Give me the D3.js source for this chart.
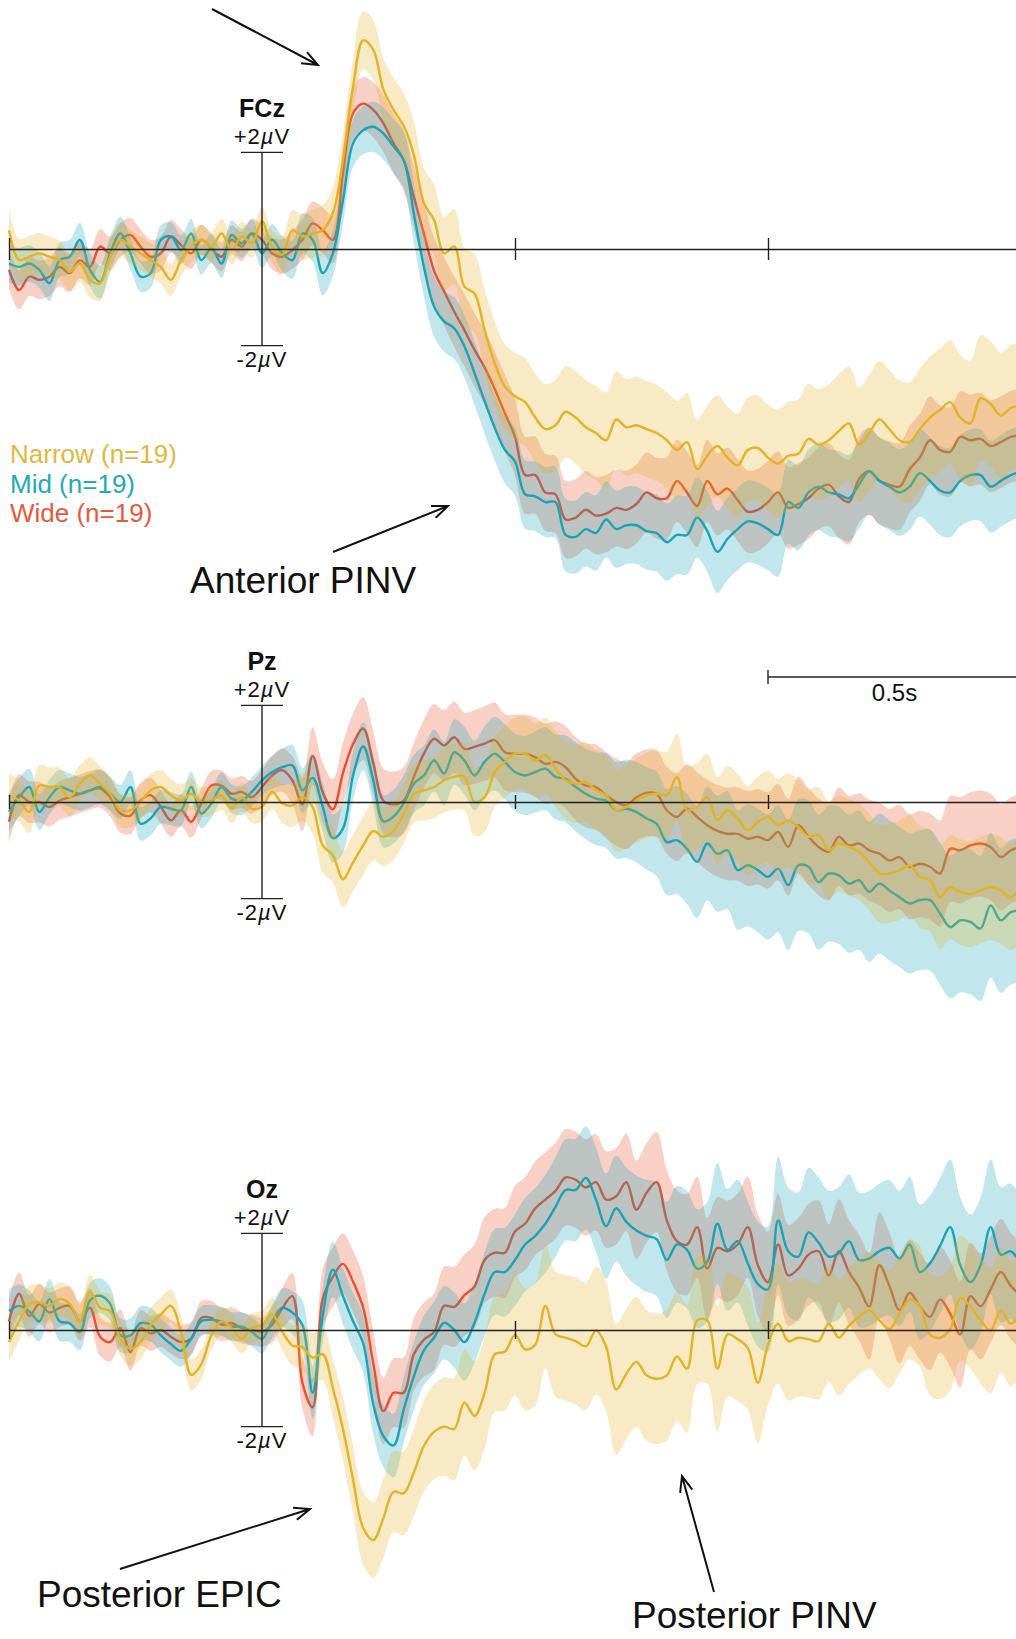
<!DOCTYPE html>
<html>
<head>
<meta charset="utf-8">
<script src="https://cdn.jsdelivr.net/npm/d3@7"></script>
<style>
  body { margin: 0; background: #fff; }
  svg { display: block; font-family: "Liberation Sans", Arial, Helvetica, sans-serif; }
</style>
</head>
<body>
<svg id="chart"></svg>
<script>
// grand-average ERPs, µV, sampled every 20 ms from -0.5 s to 1.5 s (101 samples)
const tStart = -0.5
const tStep = 0.02
// standard error of each average, read every 100 ms (21 values)
const seStep = 0.1

const timeTicks = [-0.5, 0.5, 1.0]
const conditions = ['Wide', 'Mid', 'Narrow']   // drawing order
const legendLabels = ['Narrow (n=19)', 'Mid (n=19)', 'Wide (n=19)']

// ---------- FCz ----------
const fczNarrow = [
  0.39, -0.23, -0.16, -0.09, -0.16, -0.23, -0.47, -0.30, -0.64, -0.71,
  -0.16, 0.19, 0.05, -0.09, -0.23, -0.37, -0.64, -0.23, 0.05, 0.19,
  0.05, 0.32, -0.02, 0.26, 0.12, 0.57, 0.05, -0.12, 0.39, 0.26,
  0.32, 0.39, 0.74, 1.84, 3.36, 4.32, 4.12, 3.30, 2.88, 2.55,
  1.95, 0.95, 0.60, -0.09, 0.05, -0.78, -0.92, -1.68, -2.37, -2.85,
  -3.05, -3.17, -3.49, -3.73, -3.65, -3.37, -3.49, -3.69, -3.81, -3.96,
  -3.53, -3.69, -3.65, -3.73, -3.81, -3.96, -4.16, -4.00, -4.56, -4.28,
  -4.08, -4.32, -4.48, -4.16, -4.12, -4.32, -4.44, -4.28, -4.24, -3.93,
  -4.05, -3.96, -3.77, -3.61, -4.05, -3.81, -3.53, -3.73, -3.96, -4.00,
  -3.73, -3.49, -3.33, -3.17, -3.49, -3.61, -3.09, -3.21, -3.45, -3.29,
  -3.25
]
const fczMid = [
  -0.30, -0.37, -0.30, -0.43, -0.71, -0.23, -0.16, 0.19, -0.43, -0.68,
  -0.09, 0.32, -0.09, -0.57, -0.50, 0.19, 0.26, -0.02, 0.32, -0.23,
  0.01, -0.30, 0.29, 0.12, 0.32, -0.09, 0.19, -0.09, -0.23, 0.32,
  0.19, -0.50, -0.09, 1.01, 2.19, 2.46, 2.53, 2.39, 2.12, 1.84,
  0.74, -0.37, -1.19, -1.50, -1.64, -2.02, -2.57, -3.15, -3.70, -4.16,
  -4.40, -5.08, -5.12, -5.24, -5.24, -5.92, -5.96, -5.80, -5.88, -5.60,
  -5.80, -5.72, -5.72, -5.84, -5.88, -6.07, -5.92, -5.92, -5.56, -5.84,
  -6.27, -6.00, -5.80, -5.64, -5.68, -5.80, -5.92, -5.24, -5.36, -5.04,
  -4.92, -5.04, -5.08, -5.16, -4.88, -4.60, -4.80, -4.92, -5.04, -4.92,
  -4.64, -4.80, -5.00, -5.04, -4.80, -4.68, -4.68, -4.92, -4.80, -4.68,
  -4.60
]
const fczWide = [
  -0.43, -0.85, -0.57, -0.64, -0.57, -0.37, -0.50, -0.23, -0.37, 0.05,
  -0.09, 0.19, 0.29, 0.05, -0.16, -0.09, 0.26, 0.08, -0.09, 0.19,
  0.01, -0.16, 0.19, 0.05, 0.32, 0.19, -0.09, -0.16, -0.02, 0.19,
  0.53, 0.39, 0.19, 1.57, 2.81, 3.01, 2.88, 2.60, 2.19, 1.84,
  1.08, 0.32, -0.45, -0.88, -1.30, -1.68, -2.09, -2.45, -2.90, -3.40,
  -3.89, -4.68, -4.68, -5.04, -5.08, -5.60, -5.56, -5.40, -5.52, -5.48,
  -5.36, -5.40, -5.28, -5.04, -5.16, -5.16, -4.80, -5.04, -5.32, -4.80,
  -5.08, -4.96, -5.20, -5.44, -5.40, -5.24, -5.04, -5.36, -5.28, -5.16,
  -4.96, -4.88, -5.12, -5.24, -4.76, -4.60, -4.80, -4.88, -4.92, -4.56,
  -4.32, -3.96, -4.16, -4.20, -3.89, -3.96, -3.93, -4.08, -4.00, -3.89,
  -3.85
]
const fczNarrowSE = [0.45, 0.4, 0.35, 0.35, 0.3, 0.3, 0.5, 0.6, 0.7, 0.8, 0.9, 0.95, 1.0, 1.0, 1.05, 1.1, 1.15, 1.2, 1.25, 1.3, 1.3]
const fczMidSE = [0.4, 0.35, 0.35, 0.3, 0.3, 0.3, 0.45, 0.5, 0.6, 0.65, 0.7, 0.75, 0.8, 0.8, 0.85, 0.85, 0.9, 0.9, 0.9, 0.95, 0.95]
const fczWideSE = [0.4, 0.4, 0.35, 0.35, 0.3, 0.3, 0.45, 0.55, 0.65, 0.75, 0.8, 0.8, 0.8, 0.85, 0.85, 0.85, 0.85, 0.9, 0.9, 0.95, 0.95]

// ---------- Pz ----------
const pzNarrow = [
  0.14, 0.03, -0.21, 0.34, 0.31, 0.31, 0.10, 0.38, 0.55, 0.38,
  0.17, -0.17, -0.17, 0.00, 0.24, 0.31, 0.14, 0.03, 0.17, 0.00,
  0.03, 0.14, -0.14, 0.10, -0.14, -0.10, 0.21, -0.03, -0.07, 0.10,
  -0.10, -0.90, -1.10, -1.60, -1.25, -0.90, -0.60, -0.72, -0.60, -0.25,
  0.17, 0.24, 0.31, 0.45, 0.52, 0.52, 0.00, 0.10, 0.62, 0.83,
  1.00, 1.00, 0.86, 0.97, 0.69, 0.45, 0.38, 0.41, 0.24, 0.14,
  -0.17, -0.10, 0.03, 0.14, 0.17, 0.14, 0.52, -0.17, -0.10, 0.10,
  -0.38, -0.17, -0.34, -0.59, -0.41, -0.31, -0.48, -0.38, -0.52, -0.72,
  -0.69, -1.00, -0.86, -0.93, -1.03, -1.24, -1.48, -1.48, -1.41, -1.31,
  -1.55, -1.62, -1.97, -1.76, -1.86, -1.90, -1.83, -1.76, -1.83, -1.97,
  -1.76
]
const pzMid = [
  -0.21, 0.10, 0.31, -0.21, 0.10, 0.31, 0.24, 0.17, 0.24, 0.31,
  0.17, 0.00, 0.31, -0.45, -0.34, -0.10, -0.14, -0.17, 0.31, -0.24,
  -0.03, 0.31, 0.07, 0.03, 0.21, 0.45, 0.62, 0.72, 0.76, 0.24,
  0.50, -0.10, -0.75, -0.55, 0.55, 1.15, 0.45, -0.40, -0.30, -0.03,
  0.38, 0.55, 0.86, 0.59, 1.03, 0.86, 0.55, 0.83, 1.00, 0.83,
  0.62, 0.55, 0.62, 0.69, 0.52, 0.48, 0.31, 0.17, 0.07, 0.03,
  -0.17, -0.14, -0.21, -0.34, -0.45, -0.83, -0.79, -0.97, -1.24, -0.86,
  -1.07, -1.00, -1.41, -1.31, -1.41, -1.55, -1.38, -1.72, -1.31, -1.34,
  -1.66, -1.48, -1.52, -1.69, -1.62, -1.86, -1.69, -1.83, -1.97, -2.10,
  -2.03, -2.03, -2.31, -2.59, -2.45, -2.48, -2.62, -2.14, -2.45, -2.28,
  -2.24
]
const pzWide = [
  -0.41, 0.14, 0.00, 0.00, -0.10, 0.03, 0.10, 0.17, 0.24, 0.28,
  0.10, -0.24, -0.28, 0.03, 0.14, -0.10, -0.38, -0.17, -0.41, -0.03,
  0.34, 0.34, 0.17, 0.21, 0.10, 0.31, 0.55, 0.66, 0.45, -0.05,
  0.95, 0.20, -0.15, 0.60, 1.20, 1.52, 0.80, 0.02, -0.05, 0.03,
  0.52, 1.00, 1.31, 1.17, 1.34, 1.10, 1.14, 1.21, 1.28, 1.03,
  1.00, 1.00, 0.93, 0.79, 0.83, 0.72, 0.48, 0.34, 0.31, 0.14,
  0.00, -0.07, 0.10, 0.19, 0.17, -0.17, -0.31, -0.14, -0.31, -0.48,
  -0.60, -0.66, -0.66, -0.76, -0.72, -0.79, -0.62, -0.93, -0.48, -0.72,
  -0.93, -1.03, -0.72, -0.90, -0.86, -1.00, -1.07, -1.21, -1.14, -1.34,
  -1.28, -1.34, -1.48, -0.97, -1.00, -0.90, -0.86, -0.93, -1.14, -1.00,
  -0.93
]
const pzNarrowSE = [0.45, 0.4, 0.35, 0.35, 0.3, 0.3, 0.55, 0.6, 0.6, 0.7, 0.75, 0.8, 0.85, 0.9, 0.9, 0.95, 1.0, 1.0, 1.05, 1.1, 1.1]
const pzMidSE = [0.4, 0.35, 0.35, 0.35, 0.3, 0.3, 0.5, 0.5, 0.6, 0.7, 0.8, 0.9, 1.0, 1.1, 1.2, 1.3, 1.4, 1.45, 1.45, 1.5, 1.5]
const pzWideSE = [0.45, 0.4, 0.4, 0.35, 0.3, 0.35, 0.6, 0.65, 0.7, 0.75, 0.8, 0.85, 0.9, 0.9, 0.95, 1.0, 1.0, 1.05, 1.1, 1.1, 1.1]

// ---------- Oz ----------
const ozNarrow = [
  -0.25, 0.18, 0.54, 0.57, 0.50, 0.64, 0.54, 0.18, 0.79, 0.46,
  0.39, -0.18, -0.39, -0.25, 0.11, 0.32, 0.50, -0.04, -0.93, -0.71,
  -0.11, 0.18, 0.04, -0.18, 0.04, 0.11, 0.32, -0.04, -0.32, -0.36,
  -0.57, -0.50, -1.20, -2.05, -3.10, -4.10, -4.35, -3.89, -3.35, -3.38,
  -2.95, -2.40, -2.11, -2.00, -2.05, -1.50, -1.78, -1.30, -0.50, -0.45,
  -0.10, -0.40, -0.30, 0.50, -0.09, -0.16, -0.23, -0.34, -0.01, -0.34,
  -1.23, -0.91, -0.66, -0.94, -1.01, -0.94, -0.55, -0.80, 0.20, 0.20,
  -0.80, -0.09, -0.19, -0.37, -1.09, -0.30, 0.13, -0.23, -0.16, -0.19,
  -0.23, 0.13, -0.16, 0.09, 0.27, 0.41, 0.20, 0.02, 0.34, 0.63,
  0.49, -0.09, -0.16, 0.02, 0.66, 0.49, 0.20, -0.01, 0.41, 0.13,
  0.34
]
const ozMid = [
  0.39, 0.50, 0.39, 0.18, 0.64, 0.18, 0.14, -0.04, 0.61, 0.71,
  0.54, -0.11, -0.11, 0.14, 0.11, -0.11, -0.29, -0.43, -0.18, 0.18,
  0.21, 0.18, 0.07, 0.07, -0.04, -0.18, 0.18, 0.46, 0.36, 0.10,
  -1.30, 0.30, 1.25, 0.70, 0.18, -0.28, -1.54, -2.20, -2.39, -1.65,
  -0.96, -0.42, -0.16, 0.15, 0.00, -0.25, 0.15, 0.75, 1.20, 1.20,
  1.45, 1.77, 1.95, 2.20, 2.55, 2.90, 2.90, 3.15, 2.70, 2.15,
  2.52, 2.24, 2.06, 1.95, 1.88, 1.45, 1.77, 1.66, 1.27, 1.41,
  2.20, 1.66, 1.84, 1.38, 0.95, 0.84, 2.27, 1.63, 1.52, 2.02,
  1.81, 1.52, 1.59, 1.84, 1.45, 1.48, 1.63, 1.70, 1.48, 1.77,
  1.20, 1.38, 1.74, 2.13, 1.34, 0.99, 1.34, 2.13, 1.56, 1.63,
  1.34
]
const ozWide = [
  0.18, 0.75, 0.29, 0.54, 0.36, 0.46, 0.50, 0.18, 0.46, -0.14,
  -0.25, 0.04, -0.46, 0.04, -0.07, 0.00, -0.14, -0.25, -0.18, 0.25,
  0.25, 0.11, 0.14, 0.04, 0.00, -0.04, 0.11, 0.45, 0.70, -1.10,
  -1.60, 0.65, 1.10, 1.37, 1.00, 0.46, -0.70, -1.68, -1.30, -1.30,
  -0.50, -0.20, -0.04, 0.50, 0.48, 0.72, 0.90, 1.45, 1.60, 1.60,
  2.04, 2.20, 2.52, 2.70, 2.88, 3.16, 3.11, 2.95, 3.06, 2.70,
  2.77, 3.06, 2.49, 2.84, 3.06, 2.27, 1.84, 1.77, 2.13, 1.27,
  1.70, 1.63, 1.77, 2.13, 1.34, 0.99, 1.77, 1.13, 1.27, 1.56,
  1.63, 1.13, 1.63, 1.20, 0.88, 0.49, 1.34, 0.91, 0.41, 0.77,
  0.49, 0.27, 0.63, 0.34, -0.09, 0.70, 0.49, 0.84, 1.20, 0.91,
  0.70
]
const ozNarrowSE = [0.4, 0.35, 0.35, 0.35, 0.3, 0.3, 0.5, 0.75, 0.9, 1.1, 1.25, 1.3, 1.35, 1.35, 1.3, 1.25, 1.2, 1.2, 1.25, 1.3, 1.3]
const ozMidSE = [0.45, 0.4, 0.35, 0.35, 0.3, 0.3, 0.55, 0.6, 0.7, 0.8, 0.95, 1.05, 1.1, 1.2, 1.25, 1.3, 1.35, 1.4, 1.4, 1.4, 1.4]
const ozWideSE = [0.45, 0.4, 0.4, 0.35, 0.35, 0.3, 0.6, 0.65, 0.75, 0.85, 0.95, 1.0, 1.0, 1.05, 1.05, 1.05, 1.05, 1.1, 1.1, 1.1, 1.1]

// ---------- layout / style ----------
const width = 1016
const height = 1639
const lineColor = { Narrow: '#e2b324', Mid: '#19a3b5', Wide: '#e8502e' }
const legendColor = { Narrow: '#e2b83c', Mid: '#23a9b8', Wide: '#e65a3c' }
const ink = '#222'

const panels = [
  { name: 'FCz', base: 249, tick: 11,
    series: { Narrow: [fczNarrow, fczNarrowSE], Mid: [fczMid, fczMidSE], Wide: [fczWide, fczWideSE] } },
  { name: 'Pz', base: 802, tick: 7,
    series: { Narrow: [pzNarrow, pzNarrowSE], Mid: [pzMid, pzMidSE], Wide: [pzWide, pzWideSE] } },
  { name: 'Oz', base: 1330, tick: 9,
    series: { Narrow: [ozNarrow, ozNarrowSE], Mid: [ozMid, ozMidSE], Wide: [ozWide, ozWideSE] } }
]

const svg = d3.select('#chart')
  .attr('width', width)
  .attr('height', height)
  .attr('viewBox', `0 0 ${width} ${height}`)

const x = d3.scaleLinear().domain([-0.5, 1.5]).range([9, 1021])
const uvPx = 48.3   // pixels per µV

panels.forEach(p => {
  const y = d3.scaleLinear().domain([-2, 2]).range([p.base + 2 * uvPx, p.base - 2 * uvPx])
  const g = svg.append('g').attr('class', 'panel-' + p.name)

  conditions.forEach(c => {
    const [mean, se] = p.series[c]
    const seAt = d3.scaleLinear()
      .domain(se.map((_, i) => tStart + i * seStep))
      .range(se)
    const pts = mean.map((v, i) => {
      const t = tStart + i * tStep
      return { t, v, s: seAt(t) }
    })

    // error band
    g.append('path')
      .datum(pts)
      .attr('fill', lineColor[c])
      .attr('fill-opacity', 0.27)
      .attr('d', d3.area()
        .x(d => x(d.t))
        .y0(d => y(d.v - d.s))
        .y1(d => y(d.v + d.s))
        .curve(d3.curveCatmullRom))

    // average
    g.append('path')
      .datum(pts)
      .attr('fill', 'none')
      .attr('stroke', lineColor[c])
      .attr('stroke-width', 2.4)
      .attr('stroke-linejoin', 'round')
      .attr('d', d3.line()
        .x(d => x(d.t))
        .y(d => y(d.v))
        .curve(d3.curveCatmullRom))
  })

  // time axis through 0 µV
  const ga = g.append('g')
    .attr('transform', `translate(0,${y(0)})`)
    .call(d3.axisBottom(x).tickValues(timeTicks).tickSizeOuter(0).tickFormat(''))
  ga.selectAll('text').remove()
  ga.select('.domain').attr('stroke', ink).attr('stroke-width', 1.4)
  ga.selectAll('.tick line')
    .attr('y1', -p.tick).attr('y2', p.tick)
    .attr('stroke', ink).attr('stroke-width', 1.4)

  // ±2 µV bar at stimulus onset
  const x0 = x(0)
  g.append('line')
    .attr('x1', x0).attr('x2', x0)
    .attr('y1', y(2)).attr('y2', y(-2))
    .attr('stroke', ink).attr('stroke-width', 1.4)
  ;[2, -2].forEach(v => {
    g.append('line')
      .attr('x1', x0 - 21).attr('x2', x0 + 21)
      .attr('y1', y(v)).attr('y2', y(v))
      .attr('stroke', ink).attr('stroke-width', 1.4)
  })

  g.append('text')
    .attr('x', x0).attr('y', y(2) - 35)
    .attr('text-anchor', 'middle')
    .attr('font-size', 25).attr('font-weight', 'bold').attr('fill', '#111')
    .text(p.name)

  const uvLabel = (v, yy) => {
    g.append('text')
      .attr('x', x0).attr('y', yy)
      .attr('text-anchor', 'middle')
      .attr('font-size', 22).attr('letter-spacing', 1).attr('fill', '#111')
      .html(`${v > 0 ? '+2' : '-2'}<tspan font-style="italic">\u00b5</tspan>V`)
  }
  uvLabel(2, y(2) - 8)
  uvLabel(-2, y(-2) + 21)
})

// legend
legendLabels.forEach((label, i) => {
  const c = label.split(' ')[0]
  svg.append('text')
    .attr('x', 10).attr('y', 463 + i * 29.5)
    .attr('font-size', 26)
    .attr('fill', legendColor[c])
    .text(label)
})

// 0.5 s scale bar
const sbY = 677
svg.append('line')
  .attr('x1', x(1.0)).attr('x2', x(1.5))
  .attr('y1', sbY).attr('y2', sbY)
  .attr('stroke', ink).attr('stroke-width', 1.4)
svg.append('line')
  .attr('x1', x(1.0)).attr('x2', x(1.0))
  .attr('y1', sbY - 7).attr('y2', sbY + 7)
  .attr('stroke', ink).attr('stroke-width', 1.4)
svg.append('text')
  .attr('x', (x(1.0) + x(1.5)) / 2).attr('y', sbY + 24)
  .attr('text-anchor', 'middle')
  .attr('font-size', 24).attr('fill', '#111')
  .text('0.5s')

// annotation arrows
function arrow(x1, y1, x2, y2) {
  const a = Math.atan2(y2 - y1, x2 - x1)
  const L = 17, w = 0.38
  const d = `M${x1},${y1}L${x2},${y2}` +
    `M${x2 - L * Math.cos(a - w)},${y2 - L * Math.sin(a - w)}L${x2},${y2}` +
    `L${x2 - L * Math.cos(a + w)},${y2 - L * Math.sin(a + w)}`
  svg.append('path')
    .attr('d', d)
    .attr('fill', 'none')
    .attr('stroke', '#111')
    .attr('stroke-width', 2)
}
arrow(212, 9, 318, 65)
arrow(333, 552, 448, 506)
arrow(120, 1569, 310, 1509)
arrow(714, 1592, 682, 1476)

const notes = [
  { text: 'Anterior PINV', x: 190, y: 593 },
  { text: 'Posterior EPIC', x: 37, y: 1607 },
  { text: 'Posterior PINV', x: 632, y: 1628 }
]
notes.forEach(n => {
  svg.append('text')
    .attr('x', n.x).attr('y', n.y)
    .attr('font-size', 37).attr('fill', '#111')
    .text(n.text)
})
</script>
</body>
</html>
